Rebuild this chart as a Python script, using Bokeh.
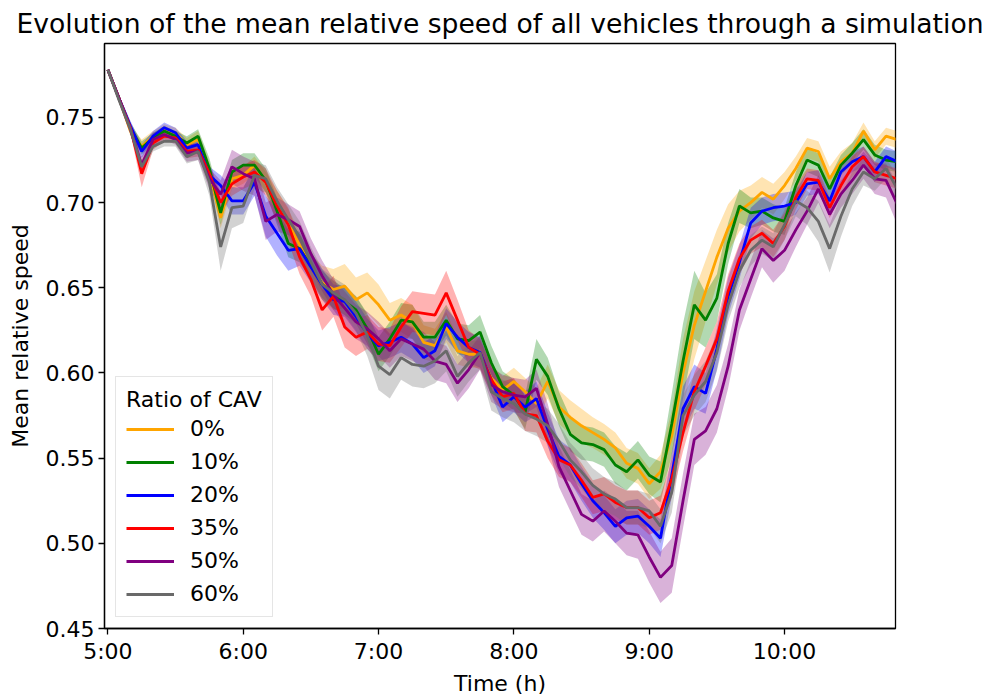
import numpy as np
from bokeh.plotting import figure
from bokeh.models import Range1d, FixedTicker, Legend, LegendItem
from bokeh.embed import file_html
from bokeh.resources import INLINE

# ---------------- data ----------------
start_hour = 5.0
step_minutes = 5
n_points = 71
time_h = [start_hour + k * step_minutes / 60.0 for k in range(n_points)]

series_labels = ["0%", "10%", "20%", "35%", "50%", "60%"]
series_colors = ["#FFA500", "#008000", "#0000FF", "#FF0000", "#800080", "#696969"]

speed_0 = [0.778, 0.761, 0.742, 0.733, 0.739, 0.743, 0.741, 0.734, 0.737, 0.718, 0.691,
           0.714, 0.716, 0.722, 0.712, 0.700, 0.688, 0.675, 0.662, 0.653, 0.649,
           0.651, 0.643, 0.647, 0.640, 0.631, 0.634, 0.630, 0.618, 0.616, 0.627,
           0.613, 0.611, 0.611, 0.597, 0.590, 0.595, 0.589, 0.582, 0.595, 0.580,
           0.574, 0.569, 0.565, 0.561, 0.556, 0.547, 0.544, 0.535, 0.542, 0.563,
           0.600, 0.628, 0.648, 0.668, 0.685, 0.695, 0.700, 0.706, 0.702, 0.710,
           0.720, 0.732, 0.730, 0.714, 0.724, 0.729, 0.742, 0.731, 0.739, 0.737]
speed_10 = [0.778, 0.761, 0.744, 0.732, 0.738, 0.742, 0.739, 0.735, 0.739, 0.720, 0.694,
            0.718, 0.722, 0.722, 0.713, 0.695, 0.676, 0.673, 0.663, 0.652, 0.646,
            0.642, 0.637, 0.626, 0.611, 0.620, 0.631, 0.630, 0.621, 0.621, 0.631,
            0.620, 0.619, 0.624, 0.606, 0.592, 0.587, 0.577, 0.608, 0.598, 0.579,
            0.564, 0.559, 0.558, 0.555, 0.546, 0.542, 0.549, 0.540, 0.536, 0.570,
            0.607, 0.640, 0.631, 0.644, 0.676, 0.698, 0.694, 0.695, 0.691, 0.689,
            0.710, 0.725, 0.722, 0.708, 0.722, 0.729, 0.737, 0.728, 0.725, 0.724]
speed_20 = [0.778, 0.761, 0.745, 0.730, 0.739, 0.744, 0.741, 0.732, 0.734, 0.716, 0.710,
            0.701, 0.701, 0.712, 0.692, 0.682, 0.672, 0.673, 0.662, 0.652, 0.643,
            0.642, 0.633, 0.623, 0.616, 0.618, 0.621, 0.617, 0.609, 0.613, 0.629,
            0.621, 0.615, 0.612, 0.596, 0.580, 0.586, 0.580, 0.585, 0.567, 0.551,
            0.546, 0.535, 0.525, 0.518, 0.510, 0.515, 0.516, 0.510, 0.503, 0.540,
            0.579, 0.592, 0.588, 0.614, 0.645, 0.665, 0.688, 0.695, 0.697, 0.698,
            0.700, 0.711, 0.712, 0.701, 0.718, 0.724, 0.727, 0.718, 0.727, 0.724]
speed_35 = [0.778, 0.761, 0.744, 0.717, 0.735, 0.739, 0.738, 0.730, 0.731, 0.717, 0.700,
            0.711, 0.715, 0.718, 0.712, 0.698, 0.687, 0.668, 0.655, 0.637, 0.645,
            0.627, 0.621, 0.624, 0.617, 0.616, 0.627, 0.636, 0.635, 0.634, 0.647,
            0.631, 0.615, 0.611, 0.596, 0.586, 0.588, 0.576, 0.575, 0.560, 0.549,
            0.546, 0.537, 0.527, 0.529, 0.524, 0.521, 0.521, 0.515, 0.518, 0.538,
            0.565, 0.589, 0.604, 0.620, 0.648, 0.667, 0.678, 0.682, 0.676, 0.686,
            0.703, 0.714, 0.713, 0.697, 0.710, 0.721, 0.727, 0.718, 0.716, 0.714]
speed_50 = [0.778, 0.761, 0.743, 0.722, 0.737, 0.740, 0.737, 0.729, 0.730, 0.714, 0.705,
            0.721, 0.717, 0.714, 0.689, 0.693, 0.690, 0.686, 0.670, 0.657, 0.646,
            0.638, 0.630, 0.626, 0.620, 0.613, 0.620, 0.617, 0.614, 0.607, 0.605,
            0.594, 0.602, 0.612, 0.593, 0.589, 0.587, 0.586, 0.591, 0.570, 0.545,
            0.531, 0.517, 0.513, 0.519, 0.513, 0.506, 0.505, 0.492, 0.480, 0.487,
            0.525, 0.561, 0.566, 0.579, 0.604, 0.637, 0.655, 0.673, 0.666, 0.672,
            0.684, 0.695, 0.708, 0.693, 0.705, 0.713, 0.722, 0.714, 0.713, 0.699]
speed_60 = [0.778, 0.760, 0.743, 0.721, 0.733, 0.736, 0.736, 0.727, 0.730, 0.712, 0.674,
            0.697, 0.698, 0.716, 0.714, 0.701, 0.690, 0.680, 0.665, 0.652, 0.647,
            0.643, 0.635, 0.622, 0.604, 0.599, 0.609, 0.605, 0.604, 0.607, 0.613,
            0.598, 0.606, 0.612, 0.589, 0.585, 0.582, 0.576, 0.573, 0.569, 0.560,
            0.549, 0.542, 0.534, 0.529, 0.526, 0.521, 0.521, 0.519, 0.510, 0.530,
            0.575, 0.587, 0.595, 0.612, 0.640, 0.660, 0.672, 0.678, 0.674, 0.687,
            0.701, 0.697, 0.689, 0.673, 0.692, 0.708, 0.718, 0.714, 0.720, 0.708]

spread_0 = [0.000, 0.002, 0.003, 0.004, 0.003, 0.003, 0.003, 0.004, 0.005, 0.006, 0.006,
            0.006, 0.005, 0.005, 0.006, 0.007, 0.008, 0.008, 0.008, 0.010, 0.012,
            0.013, 0.013, 0.012, 0.012, 0.010, 0.010, 0.010, 0.010, 0.010, 0.009,
            0.008, 0.008, 0.008, 0.008, 0.008, 0.008, 0.008, 0.009, 0.010, 0.010,
            0.010, 0.010, 0.009, 0.009, 0.009, 0.009, 0.009, 0.009, 0.010, 0.015,
            0.020, 0.020, 0.018, 0.016, 0.014, 0.012, 0.010, 0.009, 0.009, 0.008,
            0.007, 0.006, 0.006, 0.007, 0.006, 0.006, 0.005, 0.005, 0.005, 0.005]
spread_10 = [0.000, 0.002, 0.003, 0.004, 0.003, 0.003, 0.003, 0.004, 0.004, 0.006, 0.007,
             0.007, 0.007, 0.007, 0.007, 0.008, 0.008, 0.008, 0.008, 0.008, 0.008,
             0.008, 0.008, 0.009, 0.010, 0.010, 0.010, 0.010, 0.009, 0.009, 0.009,
             0.009, 0.009, 0.010, 0.010, 0.009, 0.009, 0.010, 0.012, 0.011, 0.010,
             0.010, 0.010, 0.010, 0.010, 0.011, 0.011, 0.011, 0.011, 0.012, 0.018,
             0.022, 0.020, 0.016, 0.014, 0.012, 0.010, 0.009, 0.008, 0.008, 0.008,
             0.008, 0.007, 0.007, 0.007, 0.006, 0.006, 0.006, 0.006, 0.006, 0.006]
spread_20 = [0.000, 0.002, 0.003, 0.004, 0.003, 0.003, 0.003, 0.004, 0.004, 0.005, 0.006,
             0.008, 0.008, 0.008, 0.012, 0.013, 0.012, 0.010, 0.009, 0.009, 0.009,
             0.009, 0.009, 0.009, 0.009, 0.009, 0.009, 0.009, 0.009, 0.009, 0.009,
             0.009, 0.009, 0.009, 0.009, 0.009, 0.009, 0.009, 0.010, 0.010, 0.010,
             0.010, 0.010, 0.010, 0.010, 0.010, 0.010, 0.010, 0.010, 0.011, 0.013,
             0.013, 0.013, 0.012, 0.012, 0.011, 0.010, 0.009, 0.008, 0.008, 0.008,
             0.007, 0.007, 0.007, 0.007, 0.006, 0.006, 0.006, 0.006, 0.006, 0.006]
spread_35 = [0.000, 0.002, 0.003, 0.008, 0.004, 0.003, 0.003, 0.004, 0.004, 0.005, 0.006,
             0.007, 0.007, 0.007, 0.008, 0.009, 0.010, 0.010, 0.010, 0.012, 0.012,
             0.012, 0.011, 0.010, 0.010, 0.010, 0.012, 0.012, 0.012, 0.012, 0.013,
             0.012, 0.010, 0.009, 0.009, 0.009, 0.009, 0.010, 0.010, 0.010, 0.010,
             0.010, 0.010, 0.010, 0.010, 0.010, 0.010, 0.010, 0.010, 0.010, 0.011,
             0.011, 0.011, 0.011, 0.010, 0.010, 0.009, 0.008, 0.008, 0.008, 0.008,
             0.007, 0.006, 0.006, 0.006, 0.006, 0.006, 0.006, 0.006, 0.006, 0.006]
spread_50 = [0.000, 0.002, 0.003, 0.005, 0.004, 0.003, 0.003, 0.005, 0.005, 0.006, 0.008,
             0.010, 0.010, 0.010, 0.011, 0.010, 0.009, 0.009, 0.009, 0.009, 0.009,
             0.010, 0.010, 0.010, 0.010, 0.010, 0.010, 0.010, 0.010, 0.011, 0.011,
             0.011, 0.011, 0.010, 0.010, 0.010, 0.010, 0.010, 0.011, 0.012, 0.012,
             0.012, 0.012, 0.012, 0.012, 0.013, 0.013, 0.014, 0.015, 0.015, 0.016,
             0.016, 0.015, 0.014, 0.014, 0.013, 0.012, 0.011, 0.011, 0.013, 0.012,
             0.010, 0.008, 0.008, 0.008, 0.008, 0.008, 0.008, 0.009, 0.010, 0.012]
spread_60 = [0.000, 0.002, 0.003, 0.004, 0.003, 0.003, 0.003, 0.004, 0.005, 0.008, 0.014,
             0.012, 0.010, 0.008, 0.008, 0.008, 0.009, 0.009, 0.009, 0.009, 0.009,
             0.009, 0.010, 0.012, 0.014, 0.014, 0.013, 0.013, 0.013, 0.013, 0.012,
             0.012, 0.011, 0.010, 0.011, 0.011, 0.011, 0.010, 0.010, 0.010, 0.010,
             0.010, 0.010, 0.010, 0.010, 0.010, 0.010, 0.010, 0.010, 0.010, 0.012,
             0.012, 0.012, 0.012, 0.011, 0.010, 0.010, 0.009, 0.008, 0.008, 0.009,
             0.009, 0.010, 0.012, 0.014, 0.012, 0.010, 0.008, 0.007, 0.006, 0.008]

all_speeds = [speed_0, speed_10, speed_20, speed_35, speed_50, speed_60]
all_spreads = [spread_0, spread_10, spread_20, spread_35, spread_50, spread_60]

x_tick_values = [5, 6, 7, 8, 9, 10]
x_tick_labels = ["5:00", "6:00", "7:00", "8:00", "9:00", "10:00"]
y_tick_values = [0.45, 0.50, 0.55, 0.60, 0.65, 0.70, 0.75]
y_tick_labels = ["0.45", "0.50", "0.55", "0.60", "0.65", "0.70", "0.75"]

title_text = "Evolution of the mean relative speed of all vehicles through a simulation"
x_label = "Time (h)"
y_label = "Mean relative speed"
legend_title = "Ratio of CAV"

# ---------------- figure ----------------
FONT = "DejaVu Sans"
p = figure(width=985, height=698, output_backend="svg", toolbar_location=None,
           x_range=Range1d(4.975, 10.82), y_range=Range1d(0.45, 0.7934),
           min_border_left=104, min_border_right=90, min_border_top=42, min_border_bottom=67,
           title=title_text)
p.background_fill_color = "white"
p.border_fill_color = "white"
p.outline_line_color = "black"
p.outline_line_width = 1.3
p.xgrid.grid_line_color = None
p.ygrid.grid_line_color = None

p.title.text_font = FONT
p.title.text_font_size = "26.6px"
p.title.text_font_style = "normal"
p.title.text_color = "black"
p.title.align = "center"
p.title.offset = -5
p.title.standoff = 10

for ax in (p.xaxis[0], p.yaxis[0]):
    ax.axis_line_color = "black"
    ax.axis_line_width = 1.3
    ax.major_tick_line_color = "black"
    ax.major_tick_line_width = 1.3
    ax.major_tick_out = 6
    ax.major_tick_in = 0
    ax.minor_tick_line_color = None
    ax.major_label_text_font = FONT
    ax.major_label_text_font_size = "22px"
    ax.major_label_text_color = "black"
    ax.major_label_standoff = 4
    ax.axis_label_text_font = FONT
    ax.axis_label_text_font_size = "22px"
    ax.axis_label_text_font_style = "normal"
    ax.axis_label_text_color = "black"

p.xaxis[0].ticker = FixedTicker(ticks=x_tick_values)
p.xaxis[0].major_label_overrides = {v: s for v, s in zip(x_tick_values, x_tick_labels)}
p.xaxis[0].axis_label = x_label
p.xaxis[0].axis_label_standoff = 4
p.yaxis[0].ticker = FixedTicker(ticks=y_tick_values)
p.yaxis[0].major_label_overrides = {v: s for v, s in zip(y_tick_values, y_tick_labels)}
p.yaxis[0].axis_label = y_label
p.yaxis[0].axis_label_standoff = 10

x = np.array(time_h)
# confidence bands first
for speeds, spreads, color in zip(all_speeds, all_spreads, series_colors):
    m = np.array(speeds)
    s = np.array(spreads)
    p.varea(x=x, y1=m - s, y2=m + s, fill_color=color, fill_alpha=0.3)

items = []
for speeds, color, label in zip(all_speeds, series_colors, series_labels):
    r = p.line(x=x, y=np.array(speeds), line_color=color, line_width=2.8)
    items.append(LegendItem(label=label, renderers=[r]))

legend = Legend(items=items, location="bottom_left", title=legend_title)
legend.title_text_font = FONT
legend.title_text_font_size = "22px"
legend.title_text_font_style = "normal"
legend.title_text_color = "black"
legend.title_standoff = 4
legend.label_text_font = FONT
legend.label_text_font_size = "22px"
legend.label_text_color = "black"
legend.label_standoff = 16
legend.label_height = 24
legend.glyph_height = 24
legend.glyph_width = 48
legend.spacing = 8
legend.padding = 10
legend.margin = 11
legend.border_line_color = "#cccccc"
legend.border_line_width = 1.3
legend.background_fill_color = "white"
legend.background_fill_alpha = 0.8
p.add_layout(legend, "center")

open("out.html", "w").write(file_html(p, INLINE))
